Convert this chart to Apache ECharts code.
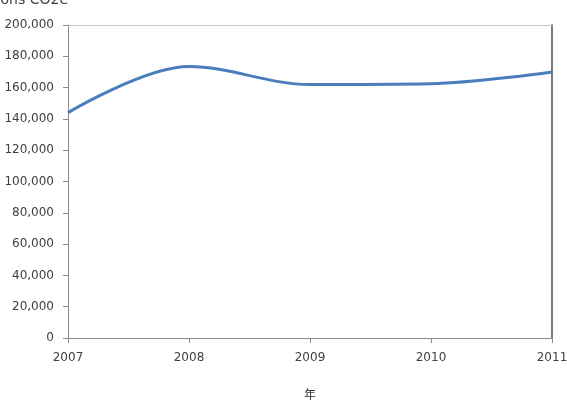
<!DOCTYPE html>
<html>
<head>
<meta charset="utf-8">
<script src="https://cdn.jsdelivr.net/npm/echarts@6/dist/echarts.min.js"></script>
<style>
    html, body {margin: 0; padding: 0; background: #fff;}
    #chart {width: 567px; height: 407px;}
</style>
</head>
<body>
<div id="chart"></div>
<script>
// emissions per year
var years = [2007, 2008, 2009, 2010, 2011];
var emissions = [144000, 173500, 162000, 162500, 170000];
var yTicks = {min: 0, max: 200000, step: 20000};

var points = [];
for (var i = 0; i < years.length; i++) {
    points.push([years[i], emissions[i]]);
}

var labelFont = {
    fontFamily: 'DejaVu Sans',
    fontSize: 12,
    color: '#404040'
};

var option = {
    animation: false,
    grid: {
        top: 25,
        left: 68,
        right: 15,
        bottom: 69,
        outerBoundsMode: 'none'
    },
    xAxis: [{
        type: 'value',
        min: years[0],
        max: years[years.length - 1],
        interval: 1,
        name: '年',
        nameLocation: 'middle',
        nameGap: 50,
        nameTextStyle: {fontFamily: 'Noto Sans CJK SC', fontSize: 12, color: '#333'},
        axisLine: {onZero: false, lineStyle: {color: '#8c8c8c', width: 1}},
        axisTick: {show: true, length: 5, lineStyle: {color: '#8c8c8c'}},
        axisLabel: {
            margin: 14,
            fontFamily: labelFont.fontFamily,
            fontSize: labelFont.fontSize,
            color: labelFont.color,
            formatter: function (v) {
                return String(v);
            }
        },
        splitLine: {show: false}
    }, {
        type: 'value',
        position: 'top',
        min: years[0],
        max: years[years.length - 1],
        axisLine: {show: true, onZero: false, lineStyle: {color: '#c8c8c8', width: 1}},
        axisTick: {show: false},
        axisLabel: {show: false},
        splitLine: {show: false}
    }],
    yAxis: [{
        type: 'value',
        min: yTicks.min,
        max: yTicks.max,
        interval: yTicks.step,
        name: 'Tons CO2e',
        nameLocation: 'end',
        nameGap: 18,
        nameTextStyle: {
            align: 'right',
            verticalAlign: 'bottom',
            fontFamily: labelFont.fontFamily,
            fontSize: 14,
            color: labelFont.color
        },
        axisLine: {show: true, onZero: false, lineStyle: {color: '#8c8c8c', width: 1}},
        axisTick: {show: true, length: 5, lineStyle: {color: '#8c8c8c'}},
        axisLabel: {
            margin: 14,
            fontFamily: labelFont.fontFamily,
            fontSize: labelFont.fontSize,
            color: labelFont.color
        },
        splitLine: {show: false}
    }, {
        type: 'value',
        position: 'right',
        min: yTicks.min,
        max: yTicks.max,
        axisLine: {show: true, onZero: false, lineStyle: {color: '#7a7a7a', width: 2}},
        axisTick: {show: false},
        axisLabel: {show: false},
        splitLine: {show: false}
    }],
    series: [{
        type: 'line',
        data: points,
        smooth: 0.35,
        showSymbol: false,
        lineStyle: {color: '#4a7ebb', width: 3}
    }]
};

var chart = echarts.init(document.getElementById('chart'));
chart.setOption(option);
</script>
</body>
</html>
